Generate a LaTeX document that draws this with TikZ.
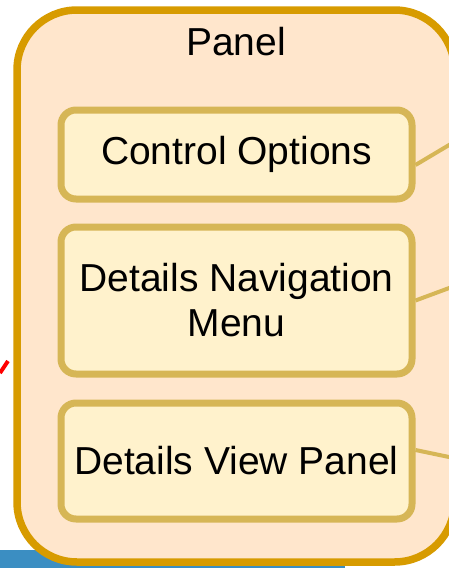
\documentclass[tikz,border=0pt]{standalone}
\usepackage{fontspec}
\setmainfont{Liberation Sans}
\definecolor{panelstroke}{HTML}{D79B00}
\definecolor{panelfill}{HTML}{FFE6CC}
\definecolor{boxstroke}{HTML}{D6B656}
\definecolor{boxfill}{HTML}{FFF2CC}
\definecolor{barblue}{HTML}{3B8EC2}
\tikzset{
  innerbox/.style={draw=boxstroke, fill=boxfill, line width=7pt, rounded corners=15pt,
    minimum width=351pt, inner sep=0pt, align=center,
    font=\fontsize{39}{45}\selectfont},
  link/.style={draw=boxstroke, line width=4pt},
  paneltext/.style={font=\fontsize{39}{45}\selectfont, inner sep=0pt}
}
\begin{document}
\begin{tikzpicture}[x=1pt,y=-1pt]
\useasboundingbox (0,0) rectangle (449,568);
\clip (0,0) rectangle (449,568);
% blue bar behind
\fill[barblue] (0,550) rectangle (345,568);
% red stroke on the left
\coordinate (r1) at (0,373);
\coordinate (r2) at (8,361);
\draw[red, line width=4pt] (r1) -- (r2);
% outer panel
\draw[draw=panelstroke, fill=panelfill, line width=7.5pt, rounded corners=60pt]
  (17,10) rectangle (454.5,562);
\node[paneltext] (title) at (236,42) {Panel};
% inner boxes
\node[innerbox, minimum height=89pt] (c1) at (236.5,154.5) {Control Options};
\node[innerbox, minimum height=147pt] (c2) at (236.5,300.5) {Details Navigation\\Menu};
\node[innerbox, minimum height=116pt] (c3) at (236.5,461) {Details View Panel};
% connectors to off-picture targets
\coordinate (t1) at (460,138.5);
\coordinate (t2) at (460,284);
\coordinate (t3) at (460,459.3);
\draw[link] ([yshift=-10.5pt]c1.east) -- (t1);
\draw[link] (c2.east) -- (t2);
\draw[link] ([yshift=11pt]c3.east) -- (t3);
\end{tikzpicture}
\end{document}
